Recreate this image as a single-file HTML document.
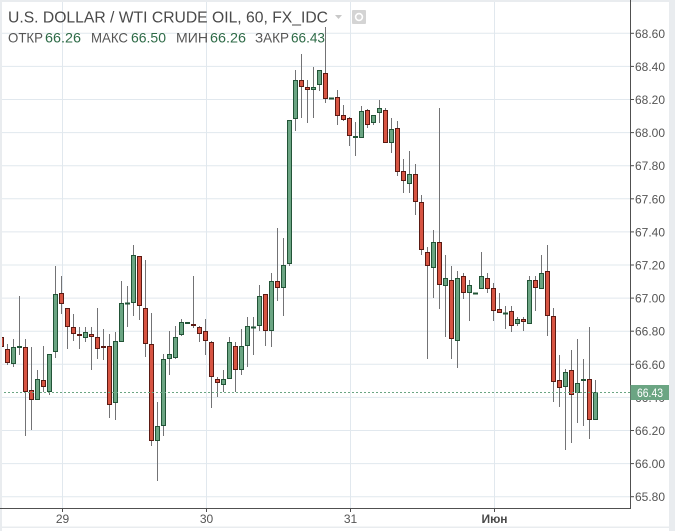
<!DOCTYPE html>
<html>
<head>
<meta charset="utf-8">
<style>
html,body{margin:0;padding:0;background:#fff;}
body{width:675px;height:531px;overflow:hidden;}
svg{display:block;}
.u rect{fill:#6ba583;stroke:#225437;stroke-width:1;}
.d rect{fill:#d75442;stroke:#5b1a13;stroke-width:1;}
.t{font-family:"Liberation Sans",Arial,sans-serif;}
</style>
</head>
<body>
<svg width="675" height="531" viewBox="0 0 675 531" xmlns="http://www.w3.org/2000/svg">
<rect x="0" y="0" width="675" height="531" fill="#ffffff"/>
<g stroke="#e1e8ee" stroke-width="1">
<line x1="0" x2="630" y1="33.3" y2="33.3"/>
<line x1="0" x2="630" y1="66.4" y2="66.4"/>
<line x1="0" x2="630" y1="99.5" y2="99.5"/>
<line x1="0" x2="630" y1="132.6" y2="132.6"/>
<line x1="0" x2="630" y1="165.7" y2="165.7"/>
<line x1="0" x2="630" y1="198.8" y2="198.8"/>
<line x1="0" x2="630" y1="231.9" y2="231.9"/>
<line x1="0" x2="630" y1="265" y2="265"/>
<line x1="0" x2="630" y1="298.1" y2="298.1"/>
<line x1="0" x2="630" y1="331.2" y2="331.2"/>
<line x1="0" x2="630" y1="364.3" y2="364.3"/>
<line x1="0" x2="630" y1="397.4" y2="397.4"/>
<line x1="0" x2="630" y1="430.5" y2="430.5"/>
<line x1="0" x2="630" y1="463.6" y2="463.6"/>
<line x1="0" x2="630" y1="496.7" y2="496.7"/>
<line x1="62.5" x2="62.5" y1="0" y2="508"/>
<line x1="206.5" x2="206.5" y1="0" y2="508"/>
<line x1="350.5" x2="350.5" y1="0" y2="508"/>
<line x1="494.5" x2="494.5" y1="0" y2="508"/>
</g>
<path fill="none" stroke="#737375" stroke-width="1" d="M1.5 335V350 M7.5 344V365 M13.5 339V367 M19.5 296V355 M25.5 339V436 M31.5 347V430 M37.5 370V400 M43.5 346V392 M49.5 354V395 M55.5 266V358 M61.5 276V314 M67.5 308V349 M73.5 314V341 M79.5 327V349 M85.5 327V342 M91.5 327V370 M97.5 308V359 M103.5 329V360 M109.5 334V418 M115.5 332V420 M121.5 281V342 M127.5 286V327 M133.5 245V316 M139.5 256V320 M145.5 260V357 M151.5 313V446 M157.5 402V481 M163.5 354V436 M169.5 331V375 M175.5 326V359 M181.5 319V336 M187.5 322V324 M193.5 276V328 M199.5 326V342 M205.5 319V355 M211.5 341V408 M217.5 377V397 M223.5 370V392 M229.5 337V379 M235.5 342V392 M241.5 329V375 M247.5 317V367 M253.5 317V355 M259.5 285V331 M265.5 294V346 M271.5 273V347 M277.5 228V301 M283.5 238V316 M289.5 120V266 M295.5 70V131 M301.5 54V118 M307.5 80V123 M313.5 67V118 M319.5 70V91 M325.5 27V103 M331.5 98V99 M337.5 90V125 M343.5 105V121 M349.5 117V146 M355.5 122V156 M361.5 106V138 M367.5 109V128 M373.5 115V125 M379.5 100V123 M385.5 108V143 M391.5 118V153 M397.5 121V176 M403.5 159V193 M409.5 151V193 M415.5 164V215 M421.5 195V255 M427.5 247V359 M433.5 230V298 M439.5 108V309 M445.5 255V337 M451.5 266V359 M457.5 271V368 M463.5 273V299 M469.5 280V321 M475.5 293V294 M481.5 252V289 M487.5 273V293 M493.5 283V321 M499.5 293V313 M505.5 306V329 M511.5 306V332 M517.5 317V326 M523.5 317V331 M529.5 276V324 M535.5 276V311 M541.5 255V289 M547.5 245V336 M553.5 308V402 M559.5 355V407 M565.5 369V450 M571.5 350V443 M577.5 339V423 M583.5 359V426 M589.5 327V439 M595.5 380V420"/>
<g class="u">
<rect x="11.5" y="347.5" width="4" height="16"/>
<rect x="35.5" y="379.5" width="4" height="20"/>
<rect x="47.5" y="354.5" width="4" height="37"/>
<rect x="53.5" y="294.5" width="4" height="57"/>
<rect x="83.5" y="332.5" width="4" height="5"/>
<rect x="113.5" y="341.5" width="4" height="61"/>
<rect x="119.5" y="303.5" width="4" height="38"/>
<rect x="131.5" y="255.5" width="4" height="47"/>
<rect x="155.5" y="426.5" width="4" height="14"/>
<rect x="161.5" y="359.5" width="4" height="66"/>
<rect x="167.5" y="354.5" width="4" height="4"/>
<rect x="173.5" y="337.5" width="4" height="20"/>
<rect x="179.5" y="322.5" width="4" height="12"/>
<rect x="221.5" y="379.5" width="4" height="5"/>
<rect x="227.5" y="342.5" width="4" height="36"/>
<rect x="239.5" y="346.5" width="4" height="23"/>
<rect x="245.5" y="326.5" width="4" height="19"/>
<rect x="257.5" y="296.5" width="4" height="29"/>
<rect x="269.5" y="281.5" width="4" height="49"/>
<rect x="281.5" y="265.5" width="4" height="22"/>
<rect x="287.5" y="120.5" width="4" height="143"/>
<rect x="293.5" y="80.5" width="4" height="38"/>
<rect x="311.5" y="87.5" width="4" height="2"/>
<rect x="317.5" y="70.5" width="4" height="14"/>
<rect x="353.5" y="136.5" width="4" height="1"/>
<rect x="359.5" y="111.5" width="4" height="26"/>
<rect x="371.5" y="115.5" width="4" height="7"/>
<rect x="377.5" y="108.5" width="4" height="4"/>
<rect x="389.5" y="129.5" width="4" height="13"/>
<rect x="407.5" y="174.5" width="4" height="9"/>
<rect x="431.5" y="242.5" width="4" height="25"/>
<rect x="443.5" y="278.5" width="4" height="7"/>
<rect x="455.5" y="278.5" width="4" height="62"/>
<rect x="467.5" y="285.5" width="4" height="7"/>
<rect x="479.5" y="276.5" width="4" height="12"/>
<rect x="515.5" y="319.5" width="4" height="4"/>
<rect x="527.5" y="280.5" width="4" height="43"/>
<rect x="539.5" y="273.5" width="4" height="15"/>
<rect x="563.5" y="372.5" width="4" height="14"/>
<rect x="575.5" y="383.5" width="4" height="9"/>
<rect x="593.5" y="392.5" width="4" height="27"/>
</g>
<g fill="#225437">
<rect x="17" y="346" width="5" height="2"/>
<rect x="125" y="302.5" width="5" height="2"/>
<rect x="185" y="322" width="5" height="2"/>
<rect x="251" y="326.5" width="5" height="2"/>
<rect x="329" y="97.5" width="5" height="2"/>
<rect x="473" y="292.5" width="5" height="2"/>
<rect x="503" y="312.5" width="5" height="2"/>
<rect x="581" y="379" width="5" height="2"/>
</g>
<g class="d">
<rect x="-0.5" y="337.5" width="4" height="9"/>
<rect x="5.5" y="349.5" width="4" height="13"/>
<rect x="23.5" y="347.5" width="4" height="44"/>
<rect x="29.5" y="390.5" width="4" height="9"/>
<rect x="41.5" y="380.5" width="4" height="6"/>
<rect x="59.5" y="293.5" width="4" height="10"/>
<rect x="65.5" y="308.5" width="4" height="18"/>
<rect x="71.5" y="327.5" width="4" height="6"/>
<rect x="77.5" y="334.5" width="4" height="1"/>
<rect x="89.5" y="334.5" width="4" height="2"/>
<rect x="95.5" y="337.5" width="4" height="11"/>
<rect x="107.5" y="346.5" width="4" height="58"/>
<rect x="137.5" y="256.5" width="4" height="49"/>
<rect x="143.5" y="308.5" width="4" height="35"/>
<rect x="149.5" y="344.5" width="4" height="96"/>
<rect x="191.5" y="324.5" width="4" height="1"/>
<rect x="197.5" y="327.5" width="4" height="6"/>
<rect x="203.5" y="331.5" width="4" height="9"/>
<rect x="209.5" y="342.5" width="4" height="34"/>
<rect x="215.5" y="379.5" width="4" height="3"/>
<rect x="233.5" y="346.5" width="4" height="23"/>
<rect x="263.5" y="294.5" width="4" height="36"/>
<rect x="275.5" y="281.5" width="4" height="6"/>
<rect x="299.5" y="80.5" width="4" height="6"/>
<rect x="305.5" y="87.5" width="4" height="2"/>
<rect x="323.5" y="73.5" width="4" height="25"/>
<rect x="335.5" y="97.5" width="4" height="18"/>
<rect x="341.5" y="115.5" width="4" height="4"/>
<rect x="347.5" y="118.5" width="4" height="17"/>
<rect x="365.5" y="110.5" width="4" height="14"/>
<rect x="383.5" y="110.5" width="4" height="32"/>
<rect x="395.5" y="128.5" width="4" height="43"/>
<rect x="401.5" y="171.5" width="4" height="9"/>
<rect x="413.5" y="174.5" width="4" height="27"/>
<rect x="419.5" y="202.5" width="4" height="47"/>
<rect x="425.5" y="252.5" width="4" height="13"/>
<rect x="437.5" y="242.5" width="4" height="42"/>
<rect x="449.5" y="280.5" width="4" height="58"/>
<rect x="461.5" y="276.5" width="4" height="16"/>
<rect x="485.5" y="278.5" width="4" height="10"/>
<rect x="491.5" y="288.5" width="4" height="22"/>
<rect x="497.5" y="309.5" width="4" height="3"/>
<rect x="509.5" y="311.5" width="4" height="14"/>
<rect x="521.5" y="319.5" width="4" height="2"/>
<rect x="533.5" y="280.5" width="4" height="7"/>
<rect x="545.5" y="271.5" width="4" height="44"/>
<rect x="551.5" y="316.5" width="4" height="65"/>
<rect x="557.5" y="380.5" width="4" height="7"/>
<rect x="569.5" y="370.5" width="4" height="24"/>
<rect x="587.5" y="379.5" width="4" height="40"/>
</g>
<rect x="101" y="346" width="5" height="2" fill="#5b1a13"/>
<line x1="0" x2="630" y1="392.5" y2="392.5" stroke="#6ba583" stroke-width="1" stroke-dasharray="2,2"/>
<rect x="0" y="0" width="675" height="2" fill="#e9ecef"/>
<rect x="0" y="0" width="2" height="531" fill="#e9ecef"/>
<rect x="669" y="0" width="6" height="531" fill="#e9ecef"/>
<rect x="0" y="526.5" width="669" height="1.5" fill="#e9ecef"/>
<g stroke="#505050" stroke-width="1">
<line x1="630.5" x2="630.5" y1="0" y2="508.5"/>
<line x1="0" x2="631" y1="508.5" y2="508.5"/>
<line x1="630" x2="634" y1="33.3" y2="33.3"/>
<line x1="630" x2="634" y1="66.4" y2="66.4"/>
<line x1="630" x2="634" y1="99.5" y2="99.5"/>
<line x1="630" x2="634" y1="132.6" y2="132.6"/>
<line x1="630" x2="634" y1="165.7" y2="165.7"/>
<line x1="630" x2="634" y1="198.8" y2="198.8"/>
<line x1="630" x2="634" y1="231.9" y2="231.9"/>
<line x1="630" x2="634" y1="265" y2="265"/>
<line x1="630" x2="634" y1="298.1" y2="298.1"/>
<line x1="630" x2="634" y1="331.2" y2="331.2"/>
<line x1="630" x2="634" y1="364.3" y2="364.3"/>
<line x1="630" x2="634" y1="397.4" y2="397.4"/>
<line x1="630" x2="634" y1="430.5" y2="430.5"/>
<line x1="630" x2="634" y1="463.6" y2="463.6"/>
<line x1="630" x2="634" y1="496.7" y2="496.7"/>
<line x1="62.5" x2="62.5" y1="508" y2="512"/>
<line x1="206.5" x2="206.5" y1="508" y2="512"/>
<line x1="350.5" x2="350.5" y1="508" y2="512"/>
<line x1="494.5" x2="494.5" y1="508" y2="512"/>
</g>
<g class="t" font-size="12" fill="#555555">
<text x="635" y="37.8" textLength="30" lengthAdjust="spacingAndGlyphs">68.60</text>
<text x="635" y="70.9" textLength="30" lengthAdjust="spacingAndGlyphs">68.40</text>
<text x="635" y="104" textLength="30" lengthAdjust="spacingAndGlyphs">68.20</text>
<text x="635" y="137.1" textLength="30" lengthAdjust="spacingAndGlyphs">68.00</text>
<text x="635" y="170.2" textLength="30" lengthAdjust="spacingAndGlyphs">67.80</text>
<text x="635" y="203.3" textLength="30" lengthAdjust="spacingAndGlyphs">67.60</text>
<text x="635" y="236.4" textLength="30" lengthAdjust="spacingAndGlyphs">67.40</text>
<text x="635" y="269.5" textLength="30" lengthAdjust="spacingAndGlyphs">67.20</text>
<text x="635" y="302.6" textLength="30" lengthAdjust="spacingAndGlyphs">67.00</text>
<text x="635" y="335.7" textLength="30" lengthAdjust="spacingAndGlyphs">66.80</text>
<text x="635" y="368.8" textLength="30" lengthAdjust="spacingAndGlyphs">66.60</text>
<text x="635" y="401.9" textLength="30" lengthAdjust="spacingAndGlyphs">66.40</text>
<text x="635" y="435" textLength="30" lengthAdjust="spacingAndGlyphs">66.20</text>
<text x="635" y="468.1" textLength="30" lengthAdjust="spacingAndGlyphs">66.00</text>
<text x="635" y="501.2" textLength="30" lengthAdjust="spacingAndGlyphs">65.80</text>
<text x="62.5" y="523" text-anchor="middle">29</text>
<text x="206.5" y="523" text-anchor="middle">30</text>
<text x="350.5" y="523" text-anchor="middle">31</text>
<text x="494.5" y="523" text-anchor="middle" font-weight="bold" fill="#4a4a4a">Июн</text>
</g>
<rect x="630.5" y="385" width="38.5" height="15" fill="#6ba583"/>
<text class="t" x="637" y="397" font-size="12" fill="#ffffff" textLength="26" lengthAdjust="spacingAndGlyphs">66.43</text>
<text class="t" x="8" y="22.7" font-size="15.5" fill="#4a4a4a" textLength="320" lengthAdjust="spacingAndGlyphs">U.S. DOLLAR / WTI CRUDE OIL, 60, FX_IDC</text>
<polygon points="335,15 342,15 338.5,19" fill="#c8c8c8"/>
<rect x="352" y="10" width="14" height="14" fill="#d4d4d4" rx="1"/>
<circle cx="359" cy="17" r="3.4" fill="none" stroke="#ffffff" stroke-width="1.6"/>
<g class="t" font-size="14">
<text x="8" y="42.5" fill="#555555" textLength="35" lengthAdjust="spacingAndGlyphs">ОТКР</text>
<text x="45" y="42.5" fill="#2e6b47" textLength="36" lengthAdjust="spacingAndGlyphs">66.26</text>
<text x="91" y="42.5" fill="#555555" textLength="37" lengthAdjust="spacingAndGlyphs">МАКС</text>
<text x="131" y="42.5" fill="#2e6b47" textLength="35" lengthAdjust="spacingAndGlyphs">66.50</text>
<text x="176" y="42.5" fill="#555555" textLength="32" lengthAdjust="spacingAndGlyphs">МИН</text>
<text x="210" y="42.5" fill="#2e6b47" textLength="36" lengthAdjust="spacingAndGlyphs">66.26</text>
<text x="255" y="42.5" fill="#555555" textLength="34" lengthAdjust="spacingAndGlyphs">ЗАКР</text>
<text x="291" y="42.5" fill="#2e6b47" textLength="34" lengthAdjust="spacingAndGlyphs">66.43</text>
</g>
</svg>
</body>
</html>
